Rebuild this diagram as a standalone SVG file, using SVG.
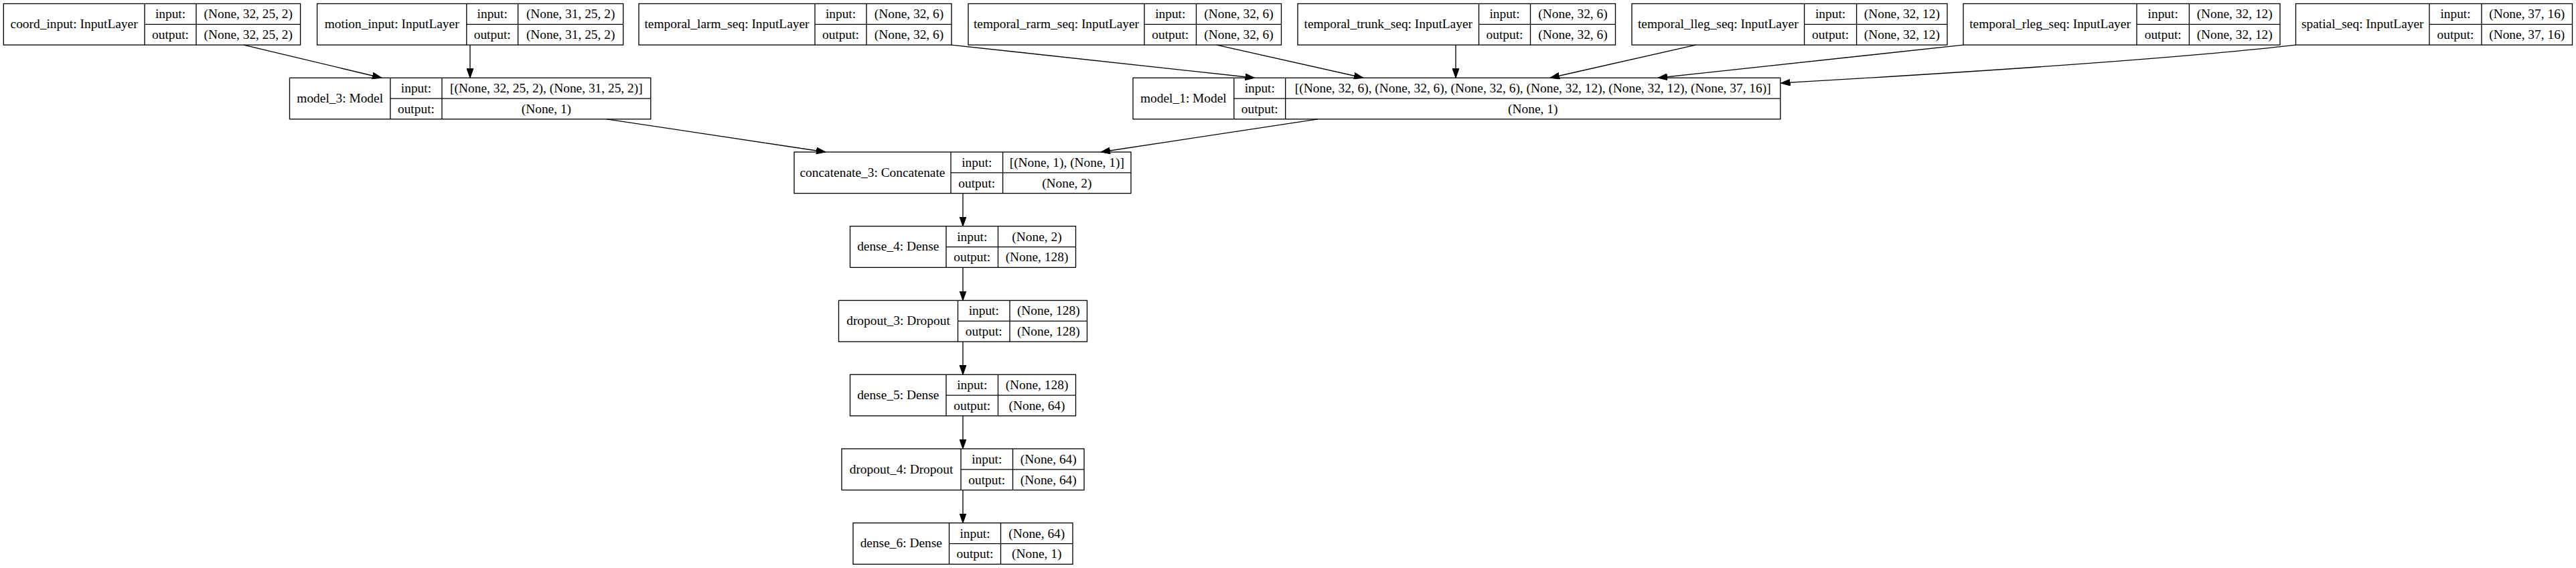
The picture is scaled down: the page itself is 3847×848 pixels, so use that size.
<svg xmlns="http://www.w3.org/2000/svg" width="3847" height="848" viewBox="0 0 3847 848">
<style>
.box{fill:none;stroke:#000;stroke-width:1.33}
.t{font-family:"Liberation Serif","Times New Roman",serif;font-size:19.4px;fill:#000;text-anchor:middle}
.e{fill:none;stroke:#000;stroke-width:1.33}
</style>
<defs>
<marker id="ah" markerUnits="userSpaceOnUse" markerWidth="14" markerHeight="10" viewBox="0 0 13.33 9.33" refX="13.33" refY="4.665" orient="auto">
<path d="M0,0 L13.33,4.665 L0,9.33 z" fill="#000" stroke="#000" stroke-width="1"/>
</marker>
</defs>
<rect width="3847" height="848" fill="#fff"/>

<g id="connectors">
<path class="e" marker-end="url(#ah)" d="M364,67.1 L570,116.25"/>
<path class="e" marker-end="url(#ah)" d="M702,67.1 L702,116.25"/>
<path class="e" marker-end="url(#ah)" d="M1421,67.1 L1873.5,116.25"/>
<path class="e" marker-end="url(#ah)" d="M1817,67.1 L2036,116.25"/>
<path class="e" marker-end="url(#ah)" d="M2174,67.1 L2174,116.25"/>
<path class="e" marker-end="url(#ah)" d="M2532.5,67.1 L2315,116.25"/>
<path class="e" marker-end="url(#ah)" d="M2932,67.1 L2476,116.25"/>
<path class="e" marker-end="url(#ah)" d="M3428.5,67.1 C3300,82 3060,101 2659.5,124"/>
<path class="e" marker-end="url(#ah)" d="M906,177.85 L1233,227"/>
<path class="e" marker-end="url(#ah)" d="M1968,177.85 L1644,227"/>
<path class="e" marker-end="url(#ah)" d="M1438,288.6 V337.75"/>
<path class="e" marker-end="url(#ah)" d="M1438,399.35 V448.5"/>
<path class="e" marker-end="url(#ah)" d="M1438,510.1 V559.25"/>
<path class="e" marker-end="url(#ah)" d="M1438,620.85 V670"/>
<path class="e" marker-end="url(#ah)" d="M1438,731.6 V780.75"/>
</g>

<g id="coord_input">
<rect class="box" x="5.3" y="5.5" width="443.3" height="61.6"/>
<path class="box" d="M216,5.5 V67.1 M293,5.5 V67.1 M216,36.3 H448.6"/>
<text class="t" x="110.6" y="42">coord_input: InputLayer</text>
<text class="t" x="254.5" y="27.3">input:</text>
<text class="t" x="254.5" y="58.1">output:</text>
<text class="t" x="370.8" y="27.3">(None, 32, 25, 2)</text>
<text class="t" x="370.8" y="58.1">(None, 32, 25, 2)</text>
</g>

<g id="motion_input">
<rect class="box" x="473.6" y="5.5" width="457.1" height="61.6"/>
<path class="box" d="M696.8,5.5 V67.1 M773.6,5.5 V67.1 M696.8,36.3 H930.7"/>
<text class="t" x="585.2" y="42">motion_input: InputLayer</text>
<text class="t" x="735.2" y="27.3">input:</text>
<text class="t" x="735.2" y="58.1">output:</text>
<text class="t" x="852.15" y="27.3">(None, 31, 25, 2)</text>
<text class="t" x="852.15" y="58.1">(None, 31, 25, 2)</text>
</g>

<g id="temporal_larm_seq">
<rect class="box" x="954" y="5.5" width="467" height="61.6"/>
<path class="box" d="M1217,5.5 V67.1 M1294,5.5 V67.1 M1217,36.3 H1421"/>
<text class="t" x="1085.5" y="42">temporal_larm_seq: InputLayer</text>
<text class="t" x="1255.5" y="27.3">input:</text>
<text class="t" x="1255.5" y="58.1">output:</text>
<text class="t" x="1357.5" y="27.3">(None, 32, 6)</text>
<text class="t" x="1357.5" y="58.1">(None, 32, 6)</text>
</g>

<g id="temporal_rarm_seq">
<rect class="box" x="1446" y="5.5" width="467.5" height="61.6"/>
<path class="box" d="M1709,5.5 V67.1 M1786.5,5.5 V67.1 M1709,36.3 H1913.5"/>
<text class="t" x="1577.5" y="42">temporal_rarm_seq: InputLayer</text>
<text class="t" x="1747.75" y="27.3">input:</text>
<text class="t" x="1747.75" y="58.1">output:</text>
<text class="t" x="1850" y="27.3">(None, 32, 6)</text>
<text class="t" x="1850" y="58.1">(None, 32, 6)</text>
</g>

<g id="temporal_trunk_seq">
<rect class="box" x="1938" y="5.5" width="474.5" height="61.6"/>
<path class="box" d="M2208.5,5.5 V67.1 M2285.5,5.5 V67.1 M2208.5,36.3 H2412.5"/>
<text class="t" x="2073.25" y="42">temporal_trunk_seq: InputLayer</text>
<text class="t" x="2247" y="27.3">input:</text>
<text class="t" x="2247" y="58.1">output:</text>
<text class="t" x="2349" y="27.3">(None, 32, 6)</text>
<text class="t" x="2349" y="58.1">(None, 32, 6)</text>
</g>

<g id="temporal_lleg_seq">
<rect class="box" x="2437" y="5.5" width="471" height="61.6"/>
<path class="box" d="M2694.6,5.5 V67.1 M2772.6,5.5 V67.1 M2694.6,36.3 H2908"/>
<text class="t" x="2565.8" y="42">temporal_lleg_seq: InputLayer</text>
<text class="t" x="2733.6" y="27.3">input:</text>
<text class="t" x="2733.6" y="58.1">output:</text>
<text class="t" x="2840.3" y="27.3">(None, 32, 12)</text>
<text class="t" x="2840.3" y="58.1">(None, 32, 12)</text>
</g>

<g id="temporal_rleg_seq">
<rect class="box" x="2932" y="5.5" width="473" height="61.6"/>
<path class="box" d="M3191,5.5 V67.1 M3269.4,5.5 V67.1 M3191,36.3 H3405"/>
<text class="t" x="3061.5" y="42">temporal_rleg_seq: InputLayer</text>
<text class="t" x="3230.2" y="27.3">input:</text>
<text class="t" x="3230.2" y="58.1">output:</text>
<text class="t" x="3337.2" y="27.3">(None, 32, 12)</text>
<text class="t" x="3337.2" y="58.1">(None, 32, 12)</text>
</g>

<g id="spatial_seq">
<rect class="box" x="3428.5" y="5.5" width="413" height="61.6"/>
<path class="box" d="M3628,5.5 V67.1 M3706,5.5 V67.1 M3628,36.3 H3841.5"/>
<text class="t" x="3528.25" y="42">spatial_seq: InputLayer</text>
<text class="t" x="3667" y="27.3">input:</text>
<text class="t" x="3667" y="58.1">output:</text>
<text class="t" x="3773.75" y="27.3">(None, 37, 16)</text>
<text class="t" x="3773.75" y="58.1">(None, 37, 16)</text>
</g>

<g id="model_3">
<rect class="box" x="432.5" y="116.25" width="539.3" height="61.6"/>
<path class="box" d="M582.9,116.25 V177.85 M660,116.25 V177.85 M582.9,147.05 H971.8"/>
<text class="t" x="507.7" y="152.75">model_3: Model</text>
<text class="t" x="621.45" y="138.05">input:</text>
<text class="t" x="621.45" y="168.85">output:</text>
<text class="t" x="815.9" y="138.05">[(None, 32, 25, 2), (None, 31, 25, 2)]</text>
<text class="t" x="815.9" y="168.85">(None, 1)</text>
</g>

<g id="model_1">
<rect class="box" x="1692" y="116.25" width="966.8" height="61.6"/>
<path class="box" d="M1842.8,116.25 V177.85 M1919.7,116.25 V177.85 M1842.8,147.05 H2658.8"/>
<text class="t" x="1767.4" y="152.75">model_1: Model</text>
<text class="t" x="1881.25" y="138.05">input:</text>
<text class="t" x="1881.25" y="168.85">output:</text>
<text class="t" x="2289.25" y="138.05">[(None, 32, 6), (None, 32, 6), (None, 32, 6), (None, 32, 12), (None, 32, 12), (None, 37, 16)]</text>
<text class="t" x="2289.25" y="168.85">(None, 1)</text>
</g>

<g id="concatenate_3">
<rect class="box" x="1186" y="227" width="503" height="61.6"/>
<path class="box" d="M1420,227 V288.6 M1497.6,227 V288.6 M1420,257.8 H1689"/>
<text class="t" x="1303" y="263.5">concatenate_3: Concatenate</text>
<text class="t" x="1458.8" y="248.8">input:</text>
<text class="t" x="1458.8" y="279.6">output:</text>
<text class="t" x="1593.3" y="248.8">[(None, 1), (None, 1)]</text>
<text class="t" x="1593.3" y="279.6">(None, 2)</text>
</g>

<g id="dense_4">
<rect class="box" x="1269.5" y="337.75" width="337" height="61.6"/>
<path class="box" d="M1413,337.75 V399.35 M1490.5,337.75 V399.35 M1413,368.55 H1606.5"/>
<text class="t" x="1341.25" y="374.25">dense_4: Dense</text>
<text class="t" x="1451.75" y="359.55">input:</text>
<text class="t" x="1451.75" y="390.35">output:</text>
<text class="t" x="1548.5" y="359.55">(None, 2)</text>
<text class="t" x="1548.5" y="390.35">(None, 128)</text>
</g>

<g id="dropout_3">
<rect class="box" x="1252.5" y="448.5" width="371" height="61.6"/>
<path class="box" d="M1430.5,448.5 V510.1 M1508,448.5 V510.1 M1430.5,479.3 H1623.5"/>
<text class="t" x="1341.5" y="485">dropout_3: Dropout</text>
<text class="t" x="1469.25" y="470.3">input:</text>
<text class="t" x="1469.25" y="501.1">output:</text>
<text class="t" x="1565.75" y="470.3">(None, 128)</text>
<text class="t" x="1565.75" y="501.1">(None, 128)</text>
</g>

<g id="dense_5">
<rect class="box" x="1269.5" y="559.25" width="337" height="61.6"/>
<path class="box" d="M1413,559.25 V620.85 M1490.5,559.25 V620.85 M1413,590.05 H1606.5"/>
<text class="t" x="1341.25" y="595.75">dense_5: Dense</text>
<text class="t" x="1451.75" y="581.05">input:</text>
<text class="t" x="1451.75" y="611.85">output:</text>
<text class="t" x="1548.5" y="581.05">(None, 128)</text>
<text class="t" x="1548.5" y="611.85">(None, 64)</text>
</g>

<g id="dropout_4">
<rect class="box" x="1257" y="670" width="362" height="61.6"/>
<path class="box" d="M1435,670 V731.6 M1512.5,670 V731.6 M1435,700.8 H1619"/>
<text class="t" x="1346" y="706.5">dropout_4: Dropout</text>
<text class="t" x="1473.75" y="691.8">input:</text>
<text class="t" x="1473.75" y="722.6">output:</text>
<text class="t" x="1565.75" y="691.8">(None, 64)</text>
<text class="t" x="1565.75" y="722.6">(None, 64)</text>
</g>

<g id="dense_6">
<rect class="box" x="1274" y="780.75" width="328" height="61.6"/>
<path class="box" d="M1417.5,780.75 V842.35 M1494.5,780.75 V842.35 M1417.5,811.55 H1602"/>
<text class="t" x="1345.75" y="817.25">dense_6: Dense</text>
<text class="t" x="1456" y="802.55">input:</text>
<text class="t" x="1456" y="833.35">output:</text>
<text class="t" x="1548.25" y="802.55">(None, 64)</text>
<text class="t" x="1548.25" y="833.35">(None, 1)</text>
</g>
</svg>
